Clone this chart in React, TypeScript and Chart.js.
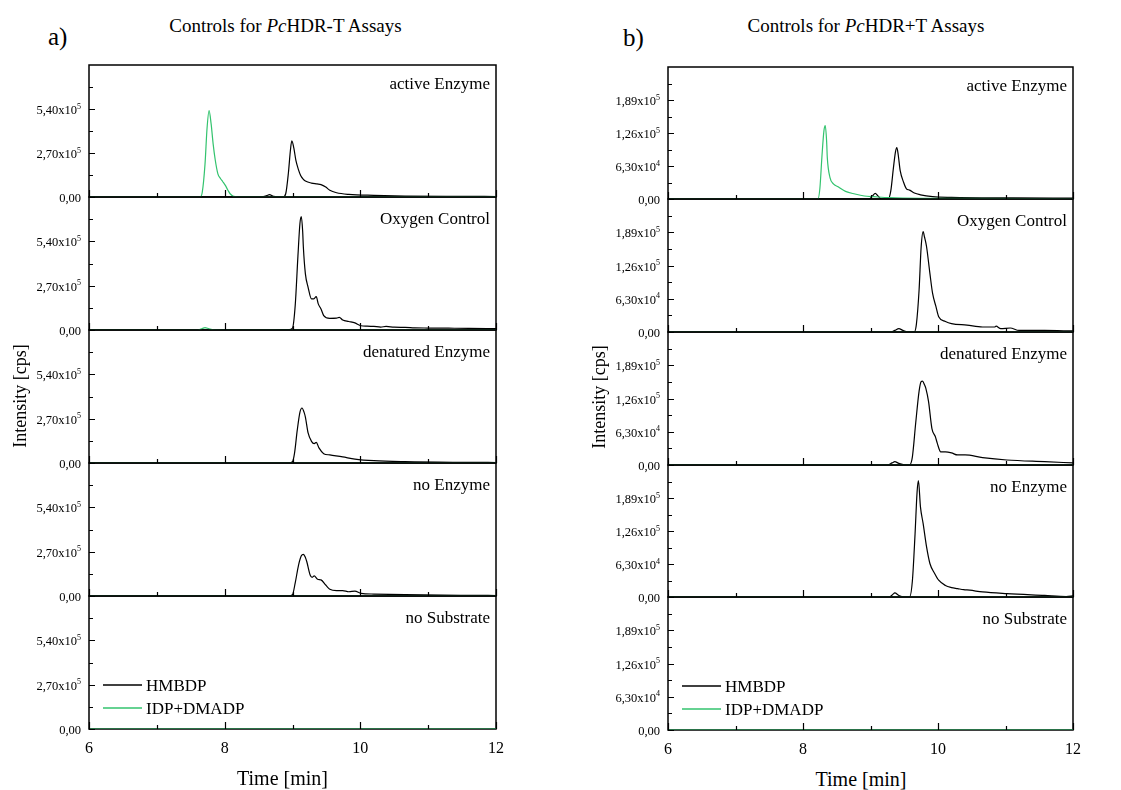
import React, { useEffect, useRef } from "react";
import { Chart, registerables } from "chart.js";

Chart.register(...registerables);

type Pt = [number, number];

// ---------- axis data ----------
const X_MIN = 6;
const X_MAX = 12;
const X_MAJOR_TICKS = [6, 8, 10, 12];
const X_MINOR_TICKS = [7, 9, 11];

const PANEL_LABELS = ["active Enzyme", "Oxygen Control", "denatured Enzyme", "no Enzyme", "no Substrate"];
const SERIES_NAMES = ["HMBDP", "IDP+DMADP"];

const A_Y_MAX = 810000;
const A_Y_LABEL_TICKS = [0, 270000, 540000];
const A_Y_MINOR_TICKS = [135000, 405000, 675000];

const B_Y_MAX = 252000;
const B_Y_LABEL_TICKS = [0, 63000, 126000, 189000];
const B_Y_MINOR_TICKS = [31500, 94500, 157500, 220500];

// ---------- a) PcHDR-T ----------
const A_ACTIVE_HMBDP: Pt[] = [
  [6, 0], [8.55, 0], [8.62, 8000], [8.66, 14000], [8.72, 4000], [8.86, 0], [8.9, 20000], [8.94, 150000],
  [8.97, 290000], [8.99, 345000], [9.02, 300000], [9.05, 224000], [9.09, 165000], [9.12, 132000],
  [9.16, 108000], [9.19, 98000], [9.28, 85000], [9.36, 80000], [9.42, 76000], [9.49, 61000],
  [9.55, 41000], [9.65, 26000], [9.83, 16000], [10.2, 10000], [10.66, 6000], [11.6, 4000], [12, 3000],
];
const A_ACTIVE_IDP: Pt[] = [
  [6, 0], [7.64, 0], [7.67, 30000], [7.71, 200000], [7.74, 420000], [7.77, 530000], [7.8, 450000],
  [7.83, 326000], [7.86, 230000], [7.9, 142000], [7.94, 112000], [7.97, 95000], [8.01, 71000],
  [8.05, 40000], [8.08, 20000], [8.13, 4000], [8.2, 1000], [9.0, 1500], [10.0, 1500], [12, 1000],
];
const A_OXYGEN_HMBDP: Pt[] = [
  [6, 0], [8.7, 0], [8.95, 3000], [9.0, 12000], [9.04, 150000], [9.08, 450000], [9.11, 650000],
  [9.13, 690000], [9.15, 600000], [9.16, 505000], [9.19, 342000], [9.23, 260000], [9.28, 189000],
  [9.31, 189000], [9.35, 203000], [9.38, 159000], [9.42, 128000], [9.46, 88000], [9.55, 71000],
  [9.65, 72000], [9.69, 77000], [9.74, 61000], [9.83, 52000], [9.92, 43000], [10.01, 26000],
  [10.1, 24000], [10.2, 22000], [10.3, 18000], [10.38, 22000], [10.5, 17000], [10.66, 16000],
  [10.8, 13000], [11.0, 12000], [11.3, 11000], [11.6, 10000], [12, 8000],
];
const A_OXYGEN_IDP: Pt[] = [
  [6, 0], [7.6, 0], [7.67, 9000], [7.71, 15000], [7.77, 7000], [7.85, 1000], [8.0, 0], [12, 0],
];
const A_DENATURED_HMBDP: Pt[] = [
  [6, 0], [8.95, 0], [9.0, 8000], [9.03, 60000], [9.07, 200000], [9.11, 310000], [9.14, 335000],
  [9.17, 310000], [9.19, 280000], [9.23, 183000], [9.28, 132000], [9.32, 118000], [9.35, 126000],
  [9.39, 92000], [9.46, 57000], [9.55, 49000], [9.74, 37000], [9.92, 24000], [10.2, 14000],
  [10.66, 8000], [11.6, 4000], [12, 3000],
];
const A_DENATURED_IDP: Pt[] = [[6, 0], [12, 0]];
const A_NOENZYME_HMBDP: Pt[] = [
  [6, 0], [8.95, 0], [9.0, 8000], [9.04, 80000], [9.09, 190000], [9.13, 245000], [9.16, 254000],
  [9.19, 235000], [9.21, 210000], [9.26, 128000], [9.29, 114000], [9.32, 122000], [9.37, 102000],
  [9.42, 98000], [9.49, 67000], [9.55, 41000], [9.65, 33000], [9.74, 33000], [9.83, 26000],
  [9.92, 30000], [10.01, 16000], [10.2, 12000], [10.66, 8000], [11.6, 4000], [12, 3000],
];
const A_NOENZYME_IDP: Pt[] = [[6, 0], [12, 0]];
const A_NOSUBSTRATE_HMBDP: Pt[] = [[6, 0], [12, 0]];
const A_NOSUBSTRATE_IDP: Pt[] = [[6, 0], [12, 0]];

// ---------- b) PcHDR+T ----------
const B_ACTIVE_HMBDP: Pt[] = [
  [6, 0], [8.98, 0], [9.03, 6000], [9.07, 10800], [9.11, 6000], [9.16, 0], [9.26, 0], [9.3, 15000],
  [9.34, 60000], [9.37, 90000], [9.39, 98000], [9.41, 85000], [9.44, 54000], [9.49, 32000],
  [9.53, 20000], [9.58, 17000], [9.65, 11400], [9.74, 8000], [9.92, 4400], [10.2, 3000],
  [11.1, 2000], [12, 1500],
];
const B_ACTIVE_IDP: Pt[] = [
  [6, 0], [8.22, 0], [8.25, 20000], [8.28, 80000], [8.31, 130000], [8.33, 140000], [8.35, 110000],
  [8.36, 79000], [8.4, 41000], [8.45, 29000], [8.52, 23500], [8.63, 14600], [8.77, 9500],
  [8.91, 5700], [9.05, 4400], [9.28, 2500], [9.74, 1300], [12, 500],
];
const B_OXYGEN_HMBDP: Pt[] = [
  [6, 0], [9.3, 0], [9.36, 3000], [9.42, 6300], [9.48, 3000], [9.55, 500], [9.65, 500], [9.68, 15000],
  [9.72, 80000], [9.75, 160000], [9.78, 190000], [9.8, 180000], [9.83, 162000], [9.88, 111000],
  [9.92, 73000], [9.97, 48000], [10.01, 29000], [10.11, 20000], [10.2, 16000], [10.43, 13000],
  [10.66, 9500], [10.84, 9500], [10.86, 11000], [10.93, 6300], [11.07, 7600], [11.2, 3000],
  [11.58, 3000], [12, 2000],
];
const B_OXYGEN_IDP: Pt[] = [[6, 0], [12, 0]];
const B_DENATURED_HMBDP: Pt[] = [
  [6, 0], [9.25, 0], [9.32, 4000], [9.36, 6300], [9.42, 3000], [9.5, 500], [9.58, 500], [9.62, 15000],
  [9.67, 80000], [9.72, 140000], [9.75, 158000], [9.77, 159000], [9.8, 152000], [9.82, 145000],
  [9.86, 120000], [9.91, 69000], [9.96, 54000], [9.99, 41000], [10.04, 25000], [10.11, 25000],
  [10.2, 23000], [10.29, 19000], [10.4, 19000], [10.66, 14000], [11.02, 9500], [11.58, 6300], [12, 4000],
];
const B_DENATURED_IDP: Pt[] = [[6, 0], [12, 0]];
const B_NOENZYME_HMBDP: Pt[] = [
  [6, 0], [9.28, 0], [9.33, 5000], [9.36, 7700], [9.42, 3000], [9.5, 500], [9.58, 500], [9.62, 30000],
  [9.66, 120000], [9.69, 200000], [9.71, 222000], [9.74, 172000], [9.78, 140000], [9.83, 96000],
  [9.88, 64000], [9.95, 45000], [10.01, 32000], [10.11, 22000], [10.2, 18000], [10.29, 16000],
  [10.38, 14000], [10.47, 13000], [10.66, 9600], [11.02, 6400], [11.58, 3000], [11.9, 1000], [12, 2000],
];
const B_NOENZYME_IDP: Pt[] = [[6, 0], [12, 0]];
const B_NOSUBSTRATE_HMBDP: Pt[] = [[6, 0], [12, 0]];
const B_NOSUBSTRATE_IDP: Pt[] = [[6, 0], [12, 0]];

const A_HMBDP = [A_ACTIVE_HMBDP, A_OXYGEN_HMBDP, A_DENATURED_HMBDP, A_NOENZYME_HMBDP, A_NOSUBSTRATE_HMBDP];
const A_IDP = [A_ACTIVE_IDP, A_OXYGEN_IDP, A_DENATURED_IDP, A_NOENZYME_IDP, A_NOSUBSTRATE_IDP];
const B_HMBDP = [B_ACTIVE_HMBDP, B_OXYGEN_HMBDP, B_DENATURED_HMBDP, B_NOENZYME_HMBDP, B_NOSUBSTRATE_HMBDP];
const B_IDP = [B_ACTIVE_IDP, B_OXYGEN_IDP, B_DENATURED_IDP, B_NOENZYME_IDP, B_NOSUBSTRATE_IDP];

// ---------- styling ----------
const FONT = "'Liberation Serif', 'Times New Roman', serif";
const BLACK = "#000000";
const GREEN = "#33c36e";

type ColLayout = {
  colLeft: number;
  plotLeft: number;
  plotRight: number;
  edges: number[]; // 6 horizontal edges, top to bottom
  yMax: number;
  yLabelTicks: number[];
  yMinorTicks: number[];
  hmbdp: Pt[][];
  idp: Pt[][];
};

const COL_A: ColLayout = {
  colLeft: 0,
  plotLeft: 89,
  plotRight: 496,
  edges: [65, 197, 330, 463, 596, 729],
  yMax: A_Y_MAX,
  yLabelTicks: A_Y_LABEL_TICKS,
  yMinorTicks: A_Y_MINOR_TICKS,
  hmbdp: A_HMBDP,
  idp: A_IDP,
};
const COL_B: ColLayout = {
  colLeft: 560,
  plotLeft: 668,
  plotRight: 1073,
  edges: [67, 199, 332, 465, 597, 730],
  yMax: B_Y_MAX,
  yLabelTicks: B_Y_LABEL_TICKS,
  yMinorTicks: B_Y_MINOR_TICKS,
  hmbdp: B_HMBDP,
  idp: B_IDP,
};

function fmtTick(v: number): { main: string; sup: string } {
  if (v === 0) return { main: "0,00", sup: "" };
  const exp = Math.floor(Math.log10(v) + 1e-9);
  const mant = v / Math.pow(10, exp);
  return { main: mant.toFixed(2).replace(".", ",") + "x10", sup: String(exp) };
}

const PAD_T = 12;
const PAD_B = 12;
const PAD_B_LAST = 32;
const PAD_R = 8;

type PanelProps = { col: ColLayout; index: number };

function Panel({ col, index }: PanelProps) {
  const ref = useRef<HTMLCanvasElement>(null);
  const isLast = index === 4;
  const top = col.edges[index];
  const bottom = col.edges[index + 1];
  const padB = isLast ? PAD_B_LAST : PAD_B;
  const width = col.plotRight - col.colLeft + PAD_R;
  const height = bottom - top + PAD_T + padB;

  useEffect(() => {
    const canvas = ref.current;
    if (!canvas) return;

    const deco = {
      id: "panelDeco",
      beforeDatasetsDraw(chart: any) {
        const ctx = chart.ctx as CanvasRenderingContext2D;
        const { left, right, top: t, bottom: b } = chart.chartArea;
        ctx.save();
        ctx.strokeStyle = BLACK;
        ctx.lineWidth = 1.5;
        ctx.strokeRect(left, t, right - left, b - t);
        ctx.restore();
      },
      afterDraw(chart: any) {
        const ctx = chart.ctx as CanvasRenderingContext2D;
        const xs = chart.scales.x;
        const ys = chart.scales.y;
        const { left, right, top: t, bottom: b } = chart.chartArea;
        ctx.save();
        ctx.strokeStyle = BLACK;
        ctx.lineWidth = 1.2;
        ctx.beginPath();
        for (const v of X_MAJOR_TICKS) {
          const px = Math.round(xs.getPixelForValue(v)) + 0.5;
          ctx.moveTo(px, b);
          ctx.lineTo(px, b - 7);
        }
        for (const v of X_MINOR_TICKS) {
          const px = Math.round(xs.getPixelForValue(v)) + 0.5;
          ctx.moveTo(px, b);
          ctx.lineTo(px, b - 4);
        }
        for (const v of col.yLabelTicks) {
          const py = Math.round(ys.getPixelForValue(v)) + 0.5;
          ctx.moveTo(left, py);
          ctx.lineTo(left + 6, py);
        }
        for (const v of col.yMinorTicks) {
          const py = Math.round(ys.getPixelForValue(v)) + 0.5;
          ctx.moveTo(left, py);
          ctx.lineTo(left + 4, py);
        }
        ctx.stroke();

        // y tick labels
        ctx.fillStyle = BLACK;
        ctx.textBaseline = "alphabetic";
        for (const v of col.yLabelTicks) {
          const py = ys.getPixelForValue(v);
          const { main, sup } = fmtTick(v);
          ctx.font = `12.5px ${FONT}`;
          const mw = ctx.measureText(main).width;
          ctx.font = `8px ${FONT}`;
          const sw = sup ? ctx.measureText(sup).width : 0;
          const endX = left - 8;
          ctx.textAlign = "left";
          ctx.font = `12.5px ${FONT}`;
          ctx.fillText(main, endX - sw - mw, py + 5);
          if (sup) {
            ctx.font = `8px ${FONT}`;
            ctx.fillText(sup, endX - sw, py - 0.5);
          }
        }

        // panel label
        ctx.font = `17px ${FONT}`;
        ctx.textAlign = "right";
        ctx.fillText(PANEL_LABELS[index], right - 6, t + (index === 0 ? 24 : 27));

        if (isLast) {
          // x tick labels
          ctx.font = `16px ${FONT}`;
          ctx.textAlign = "center";
          ctx.textBaseline = "alphabetic";
          for (const v of X_MAJOR_TICKS) {
            ctx.fillText(String(v), xs.getPixelForValue(v), b + 24);
          }
          // legend
          const ds = chart.data.datasets;
          const items = [ds[1], ds[0]];
          items.forEach((d: any, i: number) => {
            const y = t + 89 + i * 23;
            ctx.strokeStyle = d.borderColor;
            ctx.lineWidth = 1.3;
            ctx.beginPath();
            ctx.moveTo(left + 14, y);
            ctx.lineTo(left + 53, y);
            ctx.stroke();
            ctx.fillStyle = BLACK;
            ctx.font = `17px ${FONT}`;
            ctx.textAlign = "left";
            ctx.textBaseline = "alphabetic";
            ctx.fillText(d.label, left + 57, y + 6);
          });
        }
        ctx.restore();
      },
    };

    const toXY = (arr: Pt[]) => arr.map(([x, y]) => ({ x, y }));

    const chart = new Chart(canvas, {
      type: "line",
      data: {
        datasets: [
          {
            label: SERIES_NAMES[1],
            data: toXY(col.idp[index]),
            borderColor: GREEN,
            borderWidth: 1.2,
            pointRadius: 0,
            fill: false,
            cubicInterpolationMode: "monotone",
            order: 0,
          },
          {
            label: SERIES_NAMES[0],
            data: toXY(col.hmbdp[index]),
            borderColor: BLACK,
            borderWidth: 1.2,
            pointRadius: 0,
            fill: false,
            cubicInterpolationMode: "monotone",
            order: 1,
          },
        ],
      },
      options: {
        animation: false,
        responsive: false,
        maintainAspectRatio: false,
        devicePixelRatio: 1,
        layout: {
          padding: { left: col.plotLeft - col.colLeft, right: PAD_R, top: PAD_T, bottom: padB },
        },
        scales: {
          x: { type: "linear", min: X_MIN, max: X_MAX, display: false },
          y: { type: "linear", min: 0, max: col.yMax, display: false },
        },
        plugins: { legend: { display: false }, tooltip: { enabled: false } },
        events: [],
      },
      plugins: [deco],
    } as any);

    return () => chart.destroy();
  }, [col, index]);

  return (
    <canvas
      ref={ref}
      width={width}
      height={height}
      style={{
        position: "absolute",
        left: col.colLeft,
        top: top - PAD_T,
        width,
        height,
      }}
    />
  );
}

const textBase: React.CSSProperties = {
  position: "absolute",
  fontFamily: FONT,
  color: "#000",
  whiteSpace: "nowrap",
  lineHeight: 1,
};

export default function App() {
  return (
    <div style={{ position: "absolute", left: 0, top: 0, width: 1121, height: 790, background: "#fff", overflow: "hidden" }}>
      {[0, 1, 2, 3, 4].map((i) => (
        <Panel key={"a" + i} col={COL_A} index={i} />
      ))}
      {[0, 1, 2, 3, 4].map((i) => (
        <Panel key={"b" + i} col={COL_B} index={i} />
      ))}

      <div style={{ ...textBase, left: 48, top: 24, fontSize: 25 }}>a)</div>
      <div style={{ ...textBase, left: 623, top: 25, fontSize: 25 }}>b)</div>

      <div style={{ ...textBase, left: 285.5 - 200, width: 400, textAlign: "center", top: 16, fontSize: 19 }}>
        Controls for <i>Pc</i>HDR-T Assays
      </div>
      <div style={{ ...textBase, left: 866 - 200, width: 400, textAlign: "center", top: 16, fontSize: 19 }}>
        Controls for <i>Pc</i>HDR+T Assays
      </div>

      <div
        style={{
          ...textBase,
          left: 20 - 100,
          top: 396 - 12,
          width: 200,
          height: 24,
          lineHeight: "24px",
          textAlign: "center",
          fontSize: 18,
          transform: "rotate(-90deg)",
        }}
      >
        Intensity [cps]
      </div>
      <div
        style={{
          ...textBase,
          left: 599 - 100,
          top: 397 - 12,
          width: 200,
          height: 24,
          lineHeight: "24px",
          textAlign: "center",
          fontSize: 18,
          transform: "rotate(-90deg)",
        }}
      >
        Intensity [cps]
      </div>

      <div style={{ ...textBase, left: 282.5 - 100, width: 200, textAlign: "center", top: 785 - 17, fontSize: 20 }}>
        Time [min]
      </div>
      <div style={{ ...textBase, left: 861 - 100, width: 200, textAlign: "center", top: 786 - 17, fontSize: 20 }}>
        Time [min]
      </div>
    </div>
  );
}
